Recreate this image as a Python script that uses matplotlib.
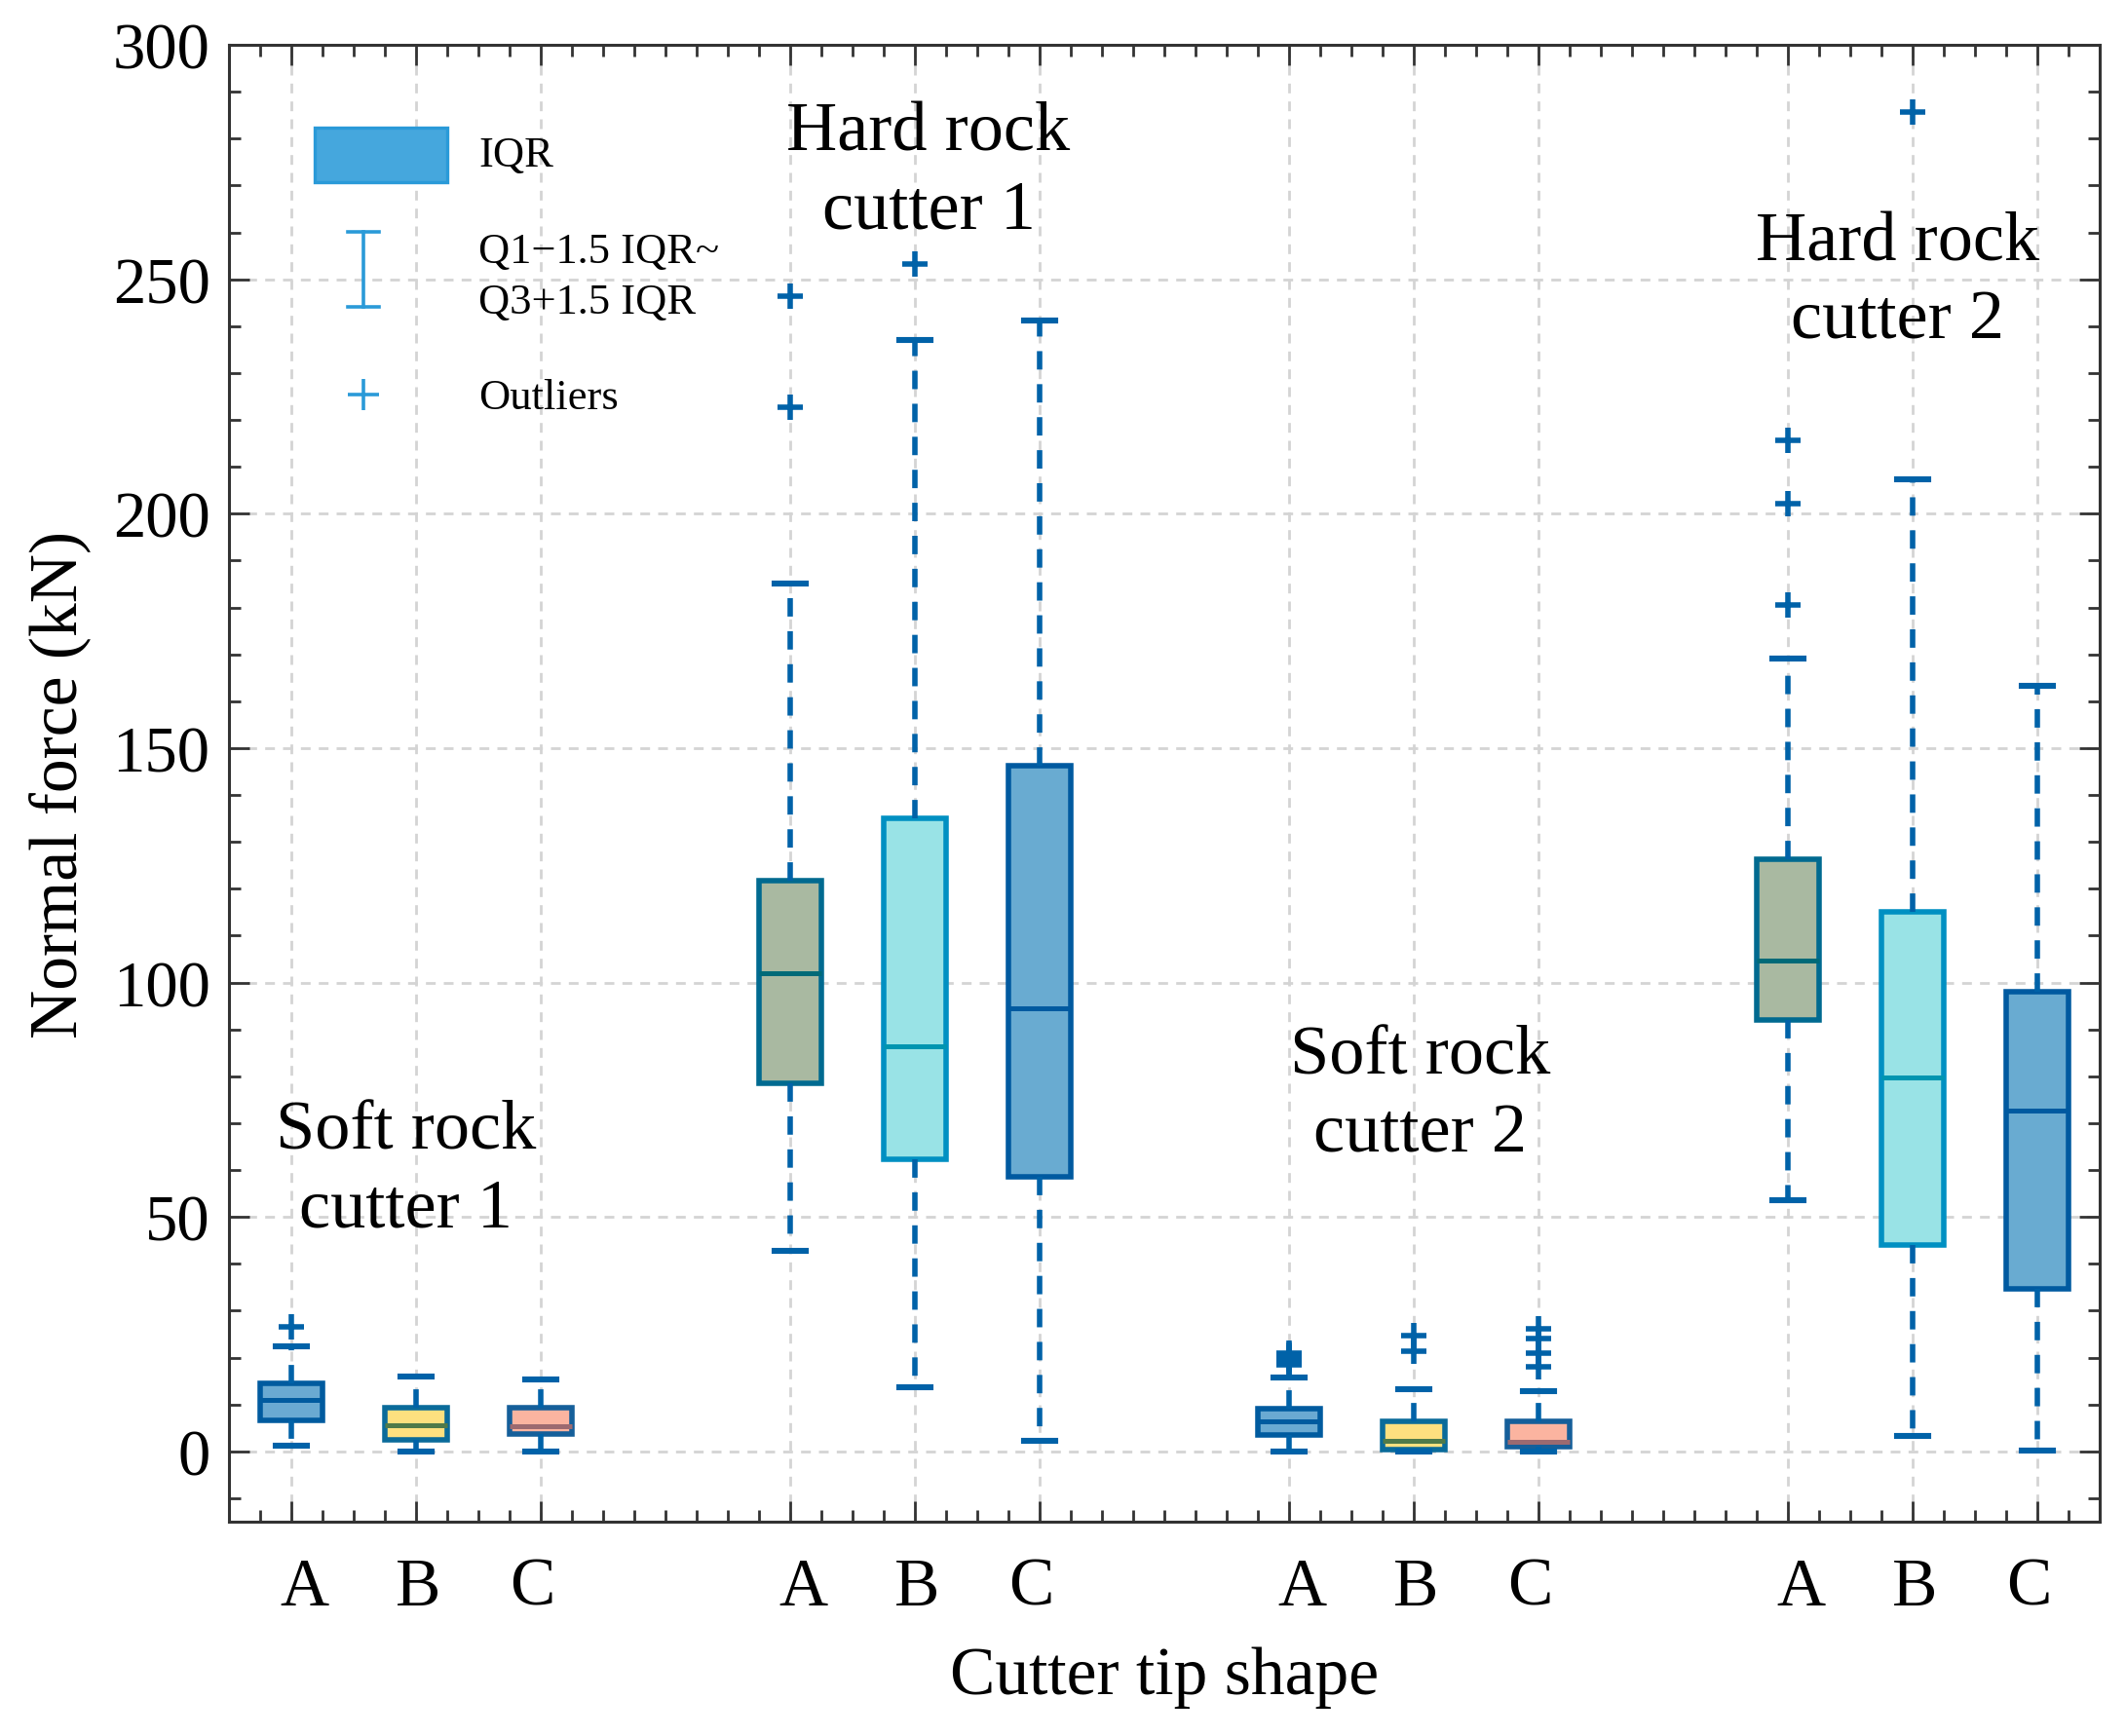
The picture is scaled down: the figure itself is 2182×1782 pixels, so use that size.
import matplotlib
matplotlib.use("Agg")
import matplotlib.pyplot as plt
from matplotlib.patches import Rectangle
from matplotlib.lines import Line2D
from matplotlib.ticker import MultipleLocator, FixedLocator
from matplotlib.transforms import ScaledTranslation

plt.rcParams['font.family'] = ['Liberation Serif', 'DejaVu Serif']
plt.rcParams['mathtext.fontset'] = 'stix'

# ---------------- data ----------------
groups = ["Soft rock\ncutter 1", "Hard rock\ncutter 1", "Soft rock\ncutter 2", "Hard rock\ncutter 2"]
shapes = ["A", "B", "C"]
positions = [1, 2, 3, 5, 6, 7, 9, 10, 11, 13, 14, 15]

q1      = [6.7, 2.4, 3.7,   78.6, 62.3, 58.5,   3.5, 0.3, 0.9,   92.0, 44.1, 34.7]
median  = [10.9, 5.6, 5.4,  102.0, 86.3, 94.6,  6.3, 2.3, 2.1,   104.6, 79.7, 72.6]
q3      = [14.5, 9.4, 9.4,  121.7, 135.0, 146.2, 9.1, 6.3, 6.3,  126.3, 115.1, 98.1]
whislo  = [1.3, 0.0, 0.0,   42.7, 13.7, 2.2,    0.0, 0.0, 0.0,   53.6, 3.3, 0.1]
whishi  = [22.4, 16.0, 15.4, 185.0, 237.0, 241.3, 15.8, 13.3, 12.9, 169.0, 207.4, 163.3]
fliers  = [[26.6], [], [],
           [222.8, 246.5], [253.2], [],
           [18.4, 19.0, 19.6, 20.2, 20.6, 21.0], [21.4, 24.7], [18.1, 21.0, 24.1, 26.2],
           [180.5, 202.2, 215.7], [285.7], []]

soft_fill = ["#6aaad2", "#fde07f", "#fbb4a0"]
soft_edge = ["#005b9f", "#0a6b9a", "#155f9a"]
soft_med = ["#005b9f", "#4f7a4a", "#9c6a70"]
hard_fill = ["#a9b9a1", "#99e3e6", "#69abd1"]
hard_edge = ["#006a90", "#0090c2", "#005aa0"]
hard_med = ["#006a78", "#0095b0", "#005aa0"]

fills = soft_fill + hard_fill + soft_fill + hard_fill
edges = soft_edge + hard_edge + soft_edge + hard_edge
meds = soft_med + hard_med + soft_med + hard_med
whisk_color = "#0062a8"

group_label_x = [1.92, 6.11, 10.05, 13.88]
group_label_y = [60, 273, 76, 249.5]

# ---------------- figure ----------------
fig = plt.figure(figsize=(10.91, 8.915), dpi=200)
ax = fig.add_axes([0.1077, 0.1234, 0.8799, 0.8502])

stats = []
for i in range(len(positions)):
    stats.append(dict(med=median[i], q1=q1[i], q3=q3[i], whislo=whislo[i],
                      whishi=whishi[i], fliers=fliers[i]))

bp = ax.bxp(stats, positions=positions, widths=0.5, capwidths=0.25,
            patch_artist=True, showfliers=True,
            whiskerprops=dict(color=whisk_color, linewidth=2.0, linestyle=(0, (3.4, 2.7))),
            capprops=dict(color=whisk_color, linewidth=2.2),
            flierprops=dict(marker='+', markeredgecolor=whisk_color, markersize=9.5,
                            markeredgewidth=2.0, linestyle='none'),
            medianprops=dict(linewidth=1.8),
            boxprops=dict(linewidth=2.0), zorder=3)

for i, box in enumerate(bp['boxes']):
    box.set_facecolor(fills[i])
    box.set_edgecolor(edges[i])
for i, m in enumerate(bp['medians']):
    m.set_color(meds[i])

ax.set_xlim(0.5, 15.5)
ax.set_ylim(-15, 300)

ax.xaxis.set_major_locator(FixedLocator(positions))
ax.set_xticklabels(shapes * 4)
ax.xaxis.set_minor_locator(MultipleLocator(0.25))
ax.yaxis.set_major_locator(MultipleLocator(50))
ax.yaxis.set_minor_locator(MultipleLocator(10))

ax.tick_params(which='both', direction='in', top=True, right=True, color='#333333', width=1.0)
ax.tick_params(which='major', length=7.5)
ax.tick_params(which='minor', length=4.3)
ax.tick_params(axis='x', which='major', labelsize=25, pad=13)
ax.tick_params(axis='y', which='major', labelsize=24, pad=7)

# small offsets of the letter labels as in the reference
offs = {"A": 0.065, "B": 0.01, "C": -0.045}
for lab in ax.get_xticklabels():
    lab.set_transform(lab.get_transform() +
                      ScaledTranslation(offs[lab.get_text()], 0, fig.dpi_scale_trans))

for sp in ax.spines.values():
    sp.set_linewidth(1.1)
    sp.set_color('#333333')

ax.grid(True, which='major', color='#d4d4d4', linestyle=(0, (3.6, 3.0)), linewidth=1.0, zorder=0)
ax.set_axisbelow(True)

ax.set_xlabel("Cutter tip shape", fontsize=25, labelpad=10)
ax.set_ylabel("Normal force (kN)", fontsize=25, labelpad=8)

for g, x, y in zip(groups, group_label_x, group_label_y):
    ax.text(x, y, g, fontsize=26, ha='center', va='center', linespacing=1.3, zorder=5)

# ---------------- custom legend ----------------
lc = "#2a9ad8"
ax.add_patch(Rectangle((0.0458, 0.907), 0.0709, 0.037, transform=ax.transAxes,
                       facecolor="#45a7dd", edgecolor=lc, linewidth=1.2, zorder=4))
ax.text(0.1333, 0.9255, "IQR", transform=ax.transAxes, fontsize=16, va='center', ha='left')
ax.add_line(Line2D([0.0719, 0.0719], [0.8226, 0.8734], transform=ax.transAxes,
                   color=lc, linewidth=1.3, zorder=4))
for yy in (0.8226, 0.8734):
    ax.add_line(Line2D([0.0636, 0.0802], [yy, yy], transform=ax.transAxes,
                       color=lc, linewidth=1.3, zorder=4))
ax.text(0.1333, 0.843, "Q1\u22121.5 IQR~\nQ3+1.5 IQR", transform=ax.transAxes,
        fontsize=16, va='center', ha='left', linespacing=1.4)
ax.add_line(Line2D([0.0719], [0.7632], transform=ax.transAxes, marker='+',
                   markersize=11.5, markeredgewidth=1.3, color=lc, linestyle='none', zorder=4))
ax.text(0.1333, 0.7615, "Outliers", transform=ax.transAxes, fontsize=16, va='center', ha='left')

fig.savefig("out.png", dpi=200)
